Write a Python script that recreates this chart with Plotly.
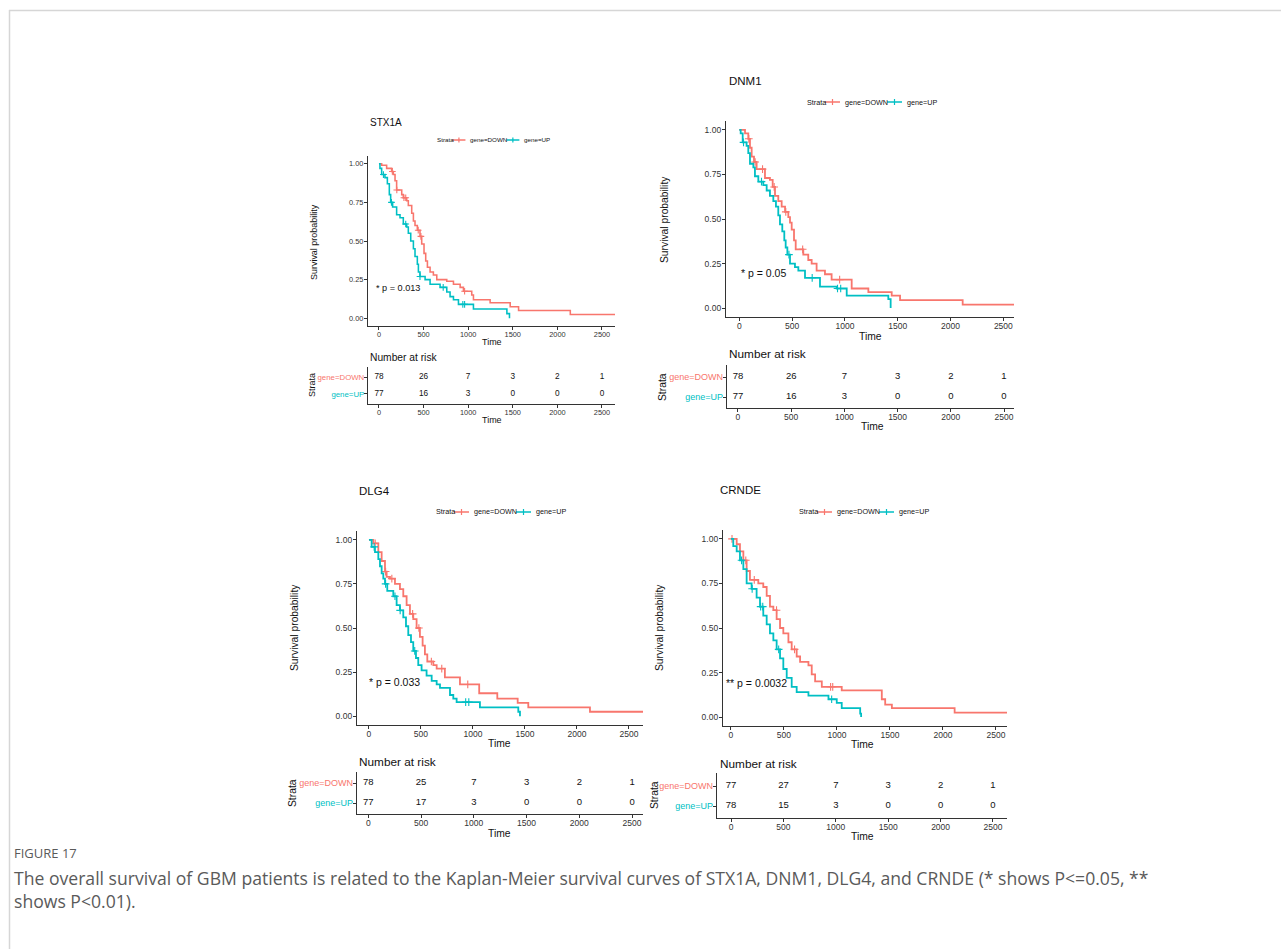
import numpy as np
import plotly.graph_objects as go

W, H = 1281, 949
RED = "#F8766D"
CYAN = "#00BFC4"
FONT = "Liberation Sans, Arial, sans-serif"

# ---------------- data ----------------
genes = ["STX1A", "DNM1", "DLG4", "CRNDE"]
pvals = ["* p = 0.013", "* p = 0.05", "* p = 0.033", "** p = 0.0032"]
strata_labels = ["gene=DOWN", "gene=UP"]

stx1a_down_t = [0, 30, 86, 142, 161, 180, 198, 255, 273, 311, 329, 367, 386, 404, 430, 460, 479, 505, 524, 543, 573, 610, 648, 760, 835, 910, 947, 1040, 1059, 1246, 1471, 1565, 2145, 2646]
stx1a_down_s = [1.0, 0.99, 0.97, 0.95, 0.93, 0.89, 0.83, 0.80, 0.78, 0.76, 0.73, 0.68, 0.63, 0.60, 0.57, 0.53, 0.48, 0.42, 0.37, 0.33, 0.30, 0.28, 0.25, 0.24, 0.22, 0.20, 0.175, 0.15, 0.12, 0.10, 0.075, 0.05, 0.025, 0.025]
stx1a_up_t = [0, 11, 30, 67, 94, 116, 131, 153, 198, 236, 273, 311, 329, 356, 386, 404, 430, 442, 460, 517, 573, 685, 760, 797, 835, 891, 1059, 1434, 1463]
stx1a_up_s = [1.0, 0.97, 0.93, 0.91, 0.87, 0.80, 0.75, 0.72, 0.67, 0.65, 0.61, 0.59, 0.55, 0.50, 0.45, 0.40, 0.35, 0.30, 0.27, 0.25, 0.22, 0.20, 0.17, 0.14, 0.12, 0.09, 0.06, 0.03, 0.0]

dnm1_down_t = [0, 54, 85, 101, 117, 139, 164, 243, 290, 316, 338, 369, 401, 433, 464, 480, 496, 518, 534, 606, 653, 685, 732, 811, 874, 1064, 1222, 1443, 1522, 2115, 2601]
dnm1_down_s = [1.0, 0.98, 0.95, 0.90, 0.85, 0.82, 0.78, 0.73, 0.72, 0.68, 0.63, 0.60, 0.57, 0.54, 0.51, 0.48, 0.44, 0.38, 0.33, 0.30, 0.27, 0.25, 0.21, 0.19, 0.16, 0.11, 0.09, 0.07, 0.045, 0.02, 0.02]
dnm1_up_t = [0, 13, 32, 69, 85, 101, 133, 148, 180, 227, 259, 290, 322, 347, 369, 385, 407, 426, 439, 455, 480, 527, 559, 622, 764, 922, 1017, 1411, 1433]
dnm1_up_s = [1.0, 0.98, 0.93, 0.91, 0.87, 0.81, 0.79, 0.74, 0.71, 0.69, 0.66, 0.63, 0.60, 0.57, 0.52, 0.47, 0.43, 0.38, 0.34, 0.30, 0.25, 0.23, 0.21, 0.17, 0.12, 0.11, 0.07, 0.05, 0.0]

dlg4_down_t = [0, 42, 90, 122, 154, 170, 202, 250, 298, 330, 362, 394, 426, 458, 490, 516, 538, 561, 619, 651, 730, 875, 1060, 1234, 1430, 1532, 2125, 2635]
dlg4_down_s = [1.0, 0.98, 0.93, 0.88, 0.82, 0.79, 0.78, 0.75, 0.72, 0.68, 0.63, 0.58, 0.55, 0.50, 0.45, 0.40, 0.35, 0.31, 0.29, 0.27, 0.22, 0.18, 0.13, 0.10, 0.075, 0.05, 0.025, 0.025]
dlg4_up_t = [0, 26, 58, 90, 106, 122, 138, 154, 176, 234, 266, 298, 330, 356, 378, 404, 426, 452, 474, 506, 554, 603, 651, 683, 779, 811, 843, 1067, 1436, 1452]
dlg4_up_s = [1.0, 0.96, 0.93, 0.89, 0.85, 0.81, 0.78, 0.75, 0.71, 0.68, 0.63, 0.60, 0.56, 0.51, 0.46, 0.42, 0.37, 0.33, 0.29, 0.26, 0.23, 0.20, 0.18, 0.16, 0.12, 0.10, 0.08, 0.05, 0.025, 0.0]

crnde_down_t = [0, 54, 85, 117, 148, 179, 258, 305, 337, 368, 400, 431, 463, 494, 542, 573, 620, 652, 731, 762, 794, 857, 1045, 1423, 1455, 1518, 2110, 2604]
crnde_down_s = [1.0, 0.97, 0.93, 0.88, 0.82, 0.77, 0.75, 0.73, 0.68, 0.62, 0.60, 0.55, 0.50, 0.47, 0.42, 0.38, 0.34, 0.31, 0.29, 0.24, 0.20, 0.17, 0.15, 0.10, 0.07, 0.05, 0.025, 0.025]
crnde_up_t = [0, 22, 54, 85, 117, 148, 195, 242, 274, 305, 337, 368, 400, 431, 463, 494, 526, 573, 620, 731, 920, 998, 1045, 1219, 1228]
crnde_up_s = [1.0, 0.96, 0.93, 0.88, 0.83, 0.75, 0.72, 0.67, 0.62, 0.57, 0.52, 0.47, 0.43, 0.38, 0.33, 0.27, 0.22, 0.17, 0.14, 0.12, 0.10, 0.08, 0.05, 0.02, 0.0]

# censoring times
stx1a_down_cens = [150, 200, 280, 300, 440, 470, 960]
stx1a_up_cens = [50, 140, 300, 460, 720, 940, 960]
dnm1_down_cens = [90, 150, 220, 330, 440, 600, 950]
dnm1_up_cens = [40, 210, 470, 690, 930, 960]
dlg4_down_cens = [60, 160, 220, 420, 480, 600, 700, 950]
dlg4_up_cens = [50, 160, 250, 300, 440, 930, 960]
crnde_down_cens = [10, 140, 220, 430, 600, 940, 960]
crnde_up_cens = [100, 200, 280, 300, 450, 950]

risk_times = [0, 500, 1000, 1500, 2000, 2500]
stx1a_risk_down = [78, 26, 7, 3, 2, 1]
stx1a_risk_up = [77, 16, 3, 0, 0, 0]
dnm1_risk_down = [78, 26, 7, 3, 2, 1]
dnm1_risk_up = [77, 16, 3, 0, 0, 0]
dlg4_risk_down = [78, 25, 7, 3, 2, 1]
dlg4_risk_up = [77, 17, 3, 0, 0, 0]
crnde_risk_down = [77, 27, 7, 3, 2, 1]
crnde_risk_up = [78, 15, 3, 0, 0, 0]

x_ticks = [0, 500, 1000, 1500, 2000, 2500]
y_ticks = [0, 0.25, 0.5, 0.75, 1.0]
y_ticklabels = ["0.00", "0.25", "0.50", "0.75", "1.00"]

caption_title = "FIGURE 17"
caption_text = ("The overall survival of GBM patients is related to the Kaplan-Meier survival curves of "
                "STX1A, DNM1, DLG4, and CRNDE (* shows P<=0.05, **<br>shows P<0.01).")

curves = [
    (stx1a_down_t, stx1a_down_s, stx1a_down_cens, stx1a_up_t, stx1a_up_s, stx1a_up_cens, stx1a_risk_down, stx1a_risk_up),
    (dnm1_down_t, dnm1_down_s, dnm1_down_cens, dnm1_up_t, dnm1_up_s, dnm1_up_cens, dnm1_risk_down, dnm1_risk_up),
    (dlg4_down_t, dlg4_down_s, dlg4_down_cens, dlg4_up_t, dlg4_up_s, dlg4_up_cens, dlg4_risk_down, dlg4_risk_up),
    (crnde_down_t, crnde_down_s, crnde_down_cens, crnde_up_t, crnde_up_s, crnde_up_cens, crnde_risk_down, crnde_risk_up),
]

# ---------------- layout geometry (pixels) ----------------
panels = [
    dict(s=0.87, km_x=(368, 615), km_y=(156, 326), km_xr=(-123, 2646),
         tb_x=(368, 615), tb_y=(367, 404), tb_yr=(-0.59, 1.59), tb_xr=(-123, 2646),
         title=(368, 123), legend=(435, 140), ytitle=(314, 242), time1=(492, 342),
         nar=(368, 357), strata=(312, 385), time2=(492, 420), pval=(374, 288)),
    dict(s=1.0, km_x=(726, 1014), km_y=(121, 317), km_xr=(-126, 2601),
         tb_x=(727, 1014), tb_y=(365, 408), tb_yr=(-0.55, 1.6), tb_xr=(-103, 2594),
         title=(727, 81), legend=(805, 102), ytitle=(664, 220), time1=(870, 336),
         nar=(727, 354), strata=(662, 387), time2=(872, 426), pval=(739, 273)),
    dict(s=1.0, km_x=(357, 643), km_y=(531, 725), km_xr=(-115, 2635),
         tb_x=(357, 643), tb_y=(772, 814), tb_yr=(-0.55, 1.55), tb_xr=(-107, 2604),
         title=(357, 491), legend=(434, 512), ytitle=(294, 628), time1=(499, 743),
         nar=(357, 762), strata=(292, 793), time2=(499, 833), pval=(367, 682)),
    dict(s=1.0, km_x=(723, 1007), km_y=(530, 726), km_xr=(-75, 2604),
         tb_x=(717, 1007), tb_y=(773, 818), tb_yr=(-0.6, 1.65), tb_xr=(-134, 2634),
         title=(718, 490), legend=(797, 512), ytitle=(659, 628), time1=(862, 744),
         nar=(718, 764), strata=(654, 795), time2=(862, 836), pval=(724, 683)),
]


def fx(x):
    return x / W


def fy(y):
    return 1 - y / H


def step_lookup(t, s, q):
    t = np.asarray(t)
    s = np.asarray(s)
    idx = np.searchsorted(t, np.asarray(q), side="right") - 1
    return s[idx].tolist()


fig = go.Figure()
layout = dict(width=W, height=H, margin=dict(l=0, r=0, t=0, b=0),
              paper_bgcolor="white", plot_bgcolor="rgba(0,0,0,0)",
              showlegend=False, font=dict(family=FONT, color="#222"))
annotations = []
shapes = []

AXCOL = "#333333"

for i, (p, g, pv, c) in enumerate(zip(panels, genes, pvals, curves)):
    s = p["s"]
    dt, ds, dc, ut, us, uc, rd, ru = c
    ka = 2 * i + 1   # km axis index
    ta = 2 * i + 2   # table axis index
    kx = "x" if ka == 1 else f"x{ka}"
    ky = "y" if ka == 1 else f"y{ka}"
    tx = f"x{ta}"
    ty = f"y{ta}"

    # KM curves
    for t_, s_, cens, col in [(dt, ds, dc, RED), (ut, us, uc, CYAN)]:
        fig.add_trace(go.Scatter(x=t_, y=s_, mode="lines", xaxis=kx, yaxis=ky,
                                 line=dict(color=col, width=1.8 * s, shape="hv"),
                                 hoverinfo="skip"))
        fig.add_trace(go.Scatter(x=cens, y=step_lookup(t_, s_, cens), mode="markers",
                                 xaxis=kx, yaxis=ky,
                                 marker=dict(symbol="cross-thin", size=5.5 * s,
                                             line=dict(color=col, width=1.1)),
                                 hoverinfo="skip"))
    # risk table
    for vals, row in [(rd, 1), (ru, 0)]:
        fig.add_trace(go.Scatter(x=risk_times, y=[row] * len(risk_times), mode="text",
                                 text=[str(v) for v in vals], xaxis=tx, yaxis=ty,
                                 textfont=dict(size=9.5 * s, color="#111", family=FONT),
                                 textposition="middle center", hoverinfo="skip"))

    axis_common = dict(showline=True, linecolor=AXCOL, linewidth=1.3, ticks="outside",
                       ticklen=3, tickwidth=1, tickcolor=AXCOL, showgrid=False,
                       zeroline=False, fixedrange=True,
                       tickfont=dict(size=8.5 * s, color="#333", family=FONT))
    layout["xaxis" if ka == 1 else f"xaxis{ka}"] = dict(
        axis_common, domain=[fx(p["km_x"][0]), fx(p["km_x"][1])], range=list(p["km_xr"]),
        anchor=ky, tickvals=x_ticks, ticktext=[str(v) for v in x_ticks], ticklabelstandoff=-2)
    layout["yaxis" if ka == 1 else f"yaxis{ka}"] = dict(
        axis_common, domain=[fy(p["km_y"][1]), fy(p["km_y"][0])], range=[-0.05, 1.05],
        anchor=kx, tickvals=y_ticks, ticktext=y_ticklabels, ticklabelstandoff=-1)
    layout[f"xaxis{ta}"] = dict(
        axis_common, domain=[fx(p["tb_x"][0]), fx(p["tb_x"][1])], range=list(p["tb_xr"]),
        anchor=ty, tickvals=x_ticks, ticktext=[str(v) for v in x_ticks], ticklabelstandoff=-2)
    layout[f"yaxis{ta}"] = dict(
        axis_common, domain=[fy(p["tb_y"][1]), fy(p["tb_y"][0])], range=list(p["tb_yr"]),
        anchor=tx, tickvals=[1, 0], ticklabelstandoff=-2,
        ticktext=[f'<span style="color:{RED}">{strata_labels[0]}</span>',
                  f'<span style="color:{CYAN}">{strata_labels[1]}</span>'])
    layout[f"yaxis{ta}"]["tickfont"] = dict(size=9 * s, family=FONT)

    def ann(text, xy, size, xanchor="left", angle=0, color="#111"):
        annotations.append(dict(text=text, x=fx(xy[0]), y=fy(xy[1]), xref="paper", yref="paper",
                                xanchor=xanchor, yanchor="middle", showarrow=False,
                                textangle=angle, font=dict(size=size, color=color, family=FONT)))

    ann(g, p["title"], 11.5 * s)
    ann("Survival probability", p["ytitle"], 10.3 * s, "center", -90)
    ann("Time", p["time1"], 10.3 * s, "center")
    ann("Number at risk", p["nar"], 11.8 * s)
    ann("Strata", p["strata"], 10.3 * s, "center", -90)
    ann("Time", p["time2"], 10.3 * s, "center")
    ann(pv, p["pval"], 10.5 * s)

    # legend
    lx, ly = p["legend"]
    ann("Strata", (lx, ly), 7.2 * s)
    for off, txt_off, col, lab in [(20, 38, RED, strata_labels[0]), (82, 100, CYAN, strata_labels[1])]:
        x0 = lx + off * s
        x1 = lx + (off + 15) * s
        xc = (x0 + x1) / 2
        shapes.append(dict(type="line", xref="paper", yref="paper", x0=fx(x0), x1=fx(x1),
                           y0=fy(ly), y1=fy(ly), line=dict(color=col, width=1.5)))
        shapes.append(dict(type="line", xref="paper", yref="paper", x0=fx(xc), x1=fx(xc),
                           y0=fy(ly - 3 * s), y1=fy(ly + 3 * s), line=dict(color=col, width=1.2)))
        ann(lab, (lx + txt_off * s, ly), 7.2 * s)

# frame lines
shapes.append(dict(type="line", xref="paper", yref="paper", x0=fx(9), x1=1, y0=fy(10.5), y1=fy(10.5),
                   line=dict(color="#d6d6d6", width=1.5)))
shapes.append(dict(type="line", xref="paper", yref="paper", x0=fx(9.5), x1=fx(9.5), y0=fy(10), y1=0,
                   line=dict(color="#d6d6d6", width=1.5)))

# caption
CAPFONT = "Open Sans, sans-serif"
annotations.append(dict(text=caption_title, x=fx(12), y=fy(853), xref="paper", yref="paper",
                        xanchor="left", yanchor="middle", showarrow=False,
                        font=dict(size=13, color="#5a5a5a", family=CAPFONT)))
annotations.append(dict(text=caption_text, x=fx(12), y=fy(889), xref="paper", yref="paper",
                        xanchor="left", yanchor="middle", align="left", showarrow=False,
                        font=dict(size=17.6, color="#5a5a5a", family=CAPFONT)))

layout["annotations"] = annotations
layout["shapes"] = shapes
fig.update_layout(**layout)
fig.write_html("out.html")
